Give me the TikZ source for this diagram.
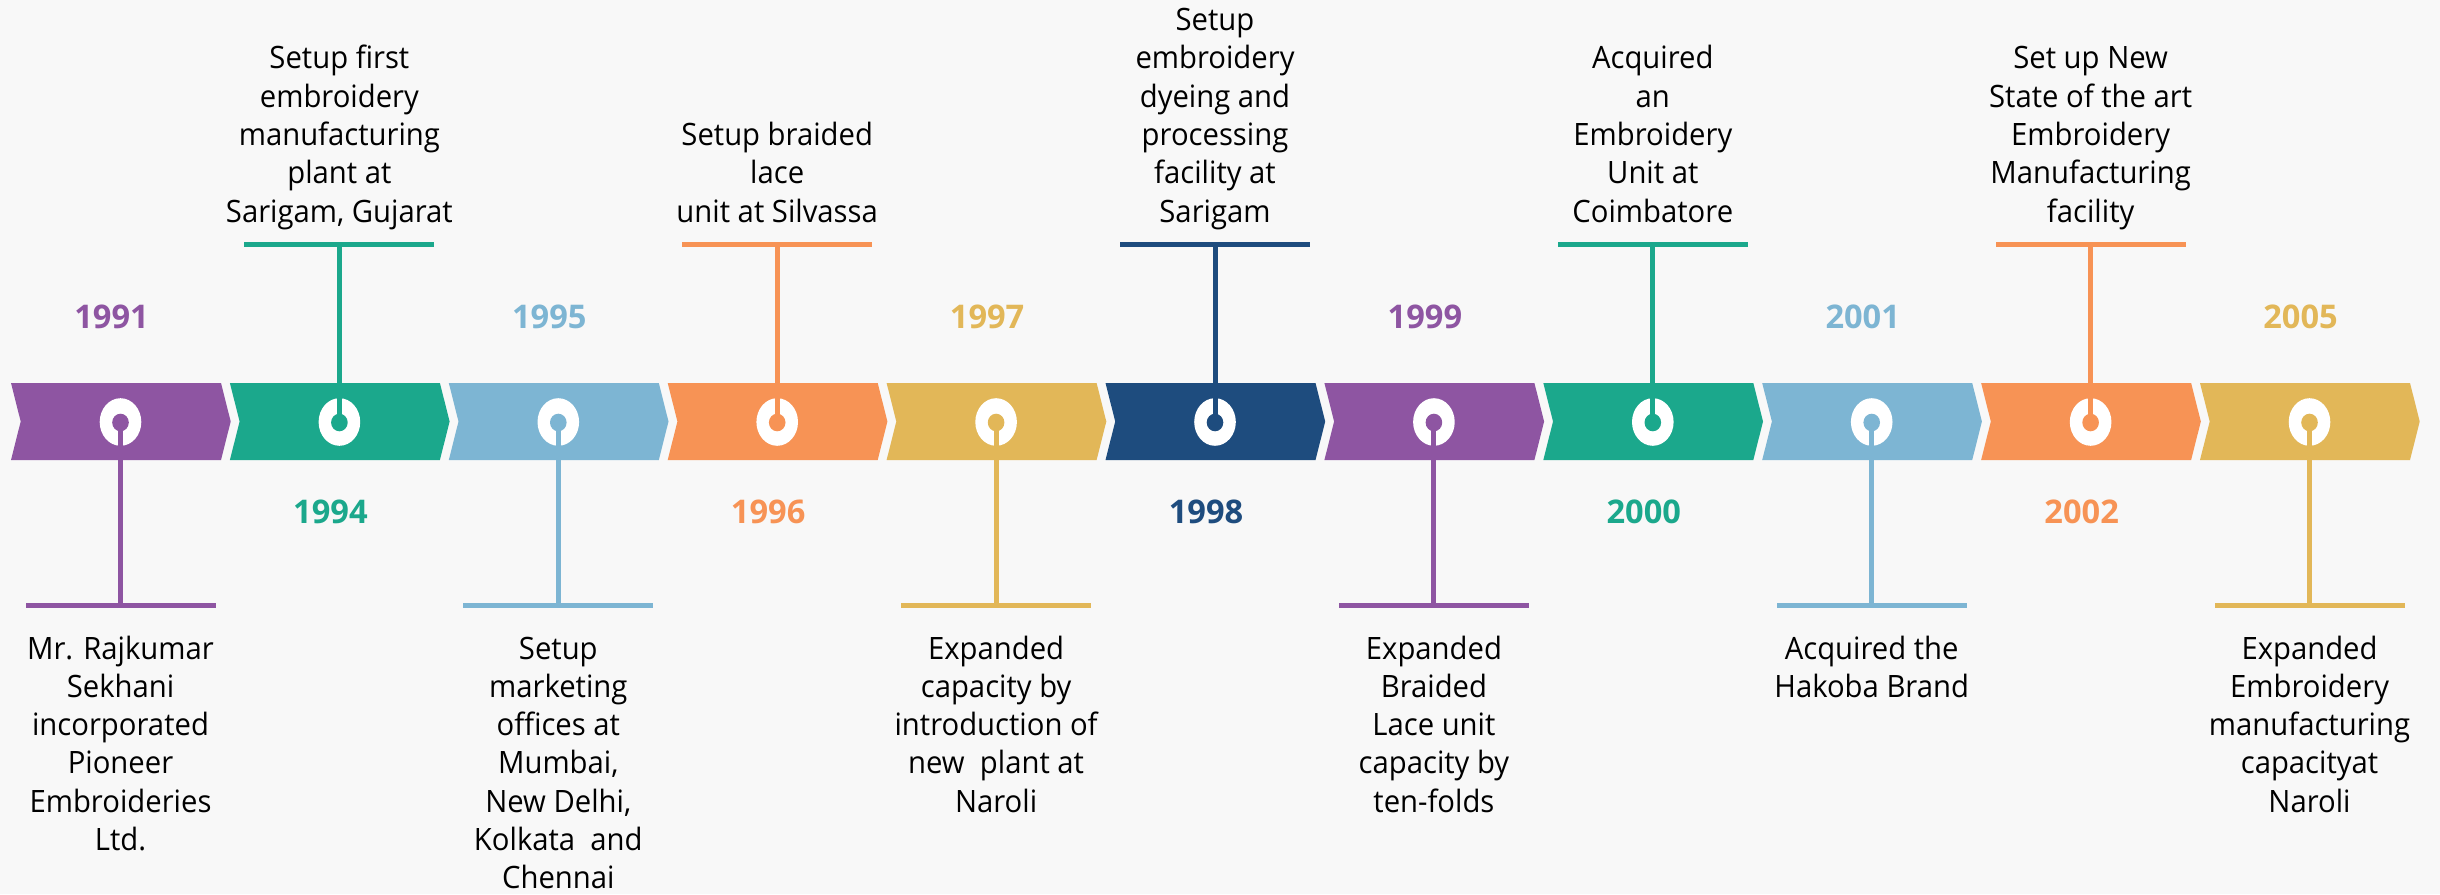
\documentclass[tikz,border=0pt]{standalone}
\usepackage{fontspec}
\setmainfont{Open Sans}[FakeStretch=0.95]
\newfontfamily\yearfont{Open Sans}
\usetikzlibrary{shapes.geometric}
\definecolor{bg}{HTML}{F8F8F8}
\definecolor{cPur}{HTML}{8E55A2}
\definecolor{cTeal}{HTML}{1BA88C}
\definecolor{cBlue}{HTML}{7DB5D3}
\definecolor{cOra}{HTML}{F79355}
\definecolor{cGold}{HTML}{E2B758}
\definecolor{cNavy}{HTML}{1E4C7E}
\begin{document}
\begin{tikzpicture}[x=0.3pt,y=-0.3pt,
  desc/.style={inner sep=0pt, text=black, font=\fontsize{9.24}{11.49}\selectfont},
  yearlbl/.style={inner sep=0pt, font=\yearfont\bfseries\fontsize{9.78}{11}\selectfont},
  barbox/.style={rectangle, inner sep=0pt, minimum width=57pt, minimum height=1.5pt},
  ring/.style={ellipse, fill=white, inner sep=0pt, minimum width=12.48pt, minimum height=14.28pt},
  hole/.style={ellipse, inner sep=0pt, minimum width=4.98pt, minimum height=5.28pt},
  stem/.style={line width=1.5pt}]
\useasboundingbox (0,0) rectangle (2440,894);
\fill[bg] (0,0) rectangle (2440,894);
% chevrons, rings, stems, bars, year labels
\foreach \i/\col/\dir/\yr in {0/cPur/d/1991, 1/cTeal/u/1994, 2/cBlue/d/1995, 3/cOra/u/1996, 4/cGold/d/1997, 5/cNavy/u/1998, 6/cPur/d/1999, 7/cTeal/u/2000, 8/cBlue/d/2001, 9/cOra/u/2002, 10/cGold/d/2005}{
  \pgfmathsetmacro{\L}{11+218.9*\i}
  \pgfmathsetmacro{\cx}{120.5+218.9*\i}
  \fill[\col] (\L,383) -- ++(210,0) -- ++(9.7,38.5) -- ++(-9.7,38.5) -- ++(-210,0) -- ++(9.7,-38.5) -- cycle;
  \node[ring] (r\i) at (\cx,422) {};
  \node[hole, fill=\col] (h\i) at (\cx,422.5) {};
  \if\dir d
    \node[barbox, fill=\col] (b\i) at (\cx,605) {};
    \node[yearlbl, text=\col] (y\i) at (\cx-9,317) {\yr};
  \else
    \node[barbox, fill=\col] (b\i) at (\cx,244) {};
    \node[yearlbl, text=\col] (y\i) at (\cx-9,512) {\yr};
  \fi
  \draw[stem, \col] (h\i.center) -- (b\i.center);
}
% descriptions below the band
\node[desc, anchor=base] (t0) at (120.5,659) {\begin{tabular}[t]{@{}c@{}}Mr. Rajkumar\\Sekhani\\incorporated\\Pioneer\\Embroideries\\Ltd.\end{tabular}};
\node[desc, anchor=base] (t2) at (558.3,659) {\begin{tabular}[t]{@{}c@{}}Setup\\marketing\\offices at\\Mumbai,\\New Delhi,\\Kolkata\ \ and\\Chennai\end{tabular}};
\node[desc, anchor=base] (t4) at (996.1,659) {\begin{tabular}[t]{@{}c@{}}Expanded\\capacity by\\introduction of\\new\ \ plant at\\Naroli\end{tabular}};
\node[desc, anchor=base] (t6) at (1433.9,659) {\begin{tabular}[t]{@{}c@{}}Expanded\\Braided\\Lace unit\\capacity by\\ten-folds\end{tabular}};
\node[desc, anchor=base] (t8) at (1871.7,659) {\begin{tabular}[t]{@{}c@{}}Acquired the\\Hakoba Brand\end{tabular}};
\node[desc, anchor=base] (t10) at (2309.5,659) {\begin{tabular}[t]{@{}c@{}}Expanded\\Embroidery\\manufacturing\\capacityat\\Naroli\end{tabular}};
% descriptions above the band
\node[desc, anchor=base] (t1) at (339.4,222) {\begin{tabular}[b]{@{}c@{}}Setup first\\embroidery\\manufacturing\\plant at\\Sarigam, Gujarat\end{tabular}};
\node[desc, anchor=base] (t3) at (777.2,222) {\begin{tabular}[b]{@{}c@{}}Setup braided\\lace\\unit at Silvassa\end{tabular}};
\node[desc, anchor=base] (t5) at (1215,222) {\begin{tabular}[b]{@{}c@{}}Setup\\embroidery\\dyeing and\\processing\\facility at\\Sarigam\end{tabular}};
\node[desc, anchor=base] (t7) at (1652.8,222) {\begin{tabular}[b]{@{}c@{}}Acquired\\an\\Embroidery\\Unit at\\Coimbatore\end{tabular}};
\node[desc, anchor=base] (t9) at (2090.6,222) {\begin{tabular}[b]{@{}c@{}}Set up New\\State of the art\\Embroidery\\Manufacturing\\facility\end{tabular}};
\end{tikzpicture}
\end{document}
